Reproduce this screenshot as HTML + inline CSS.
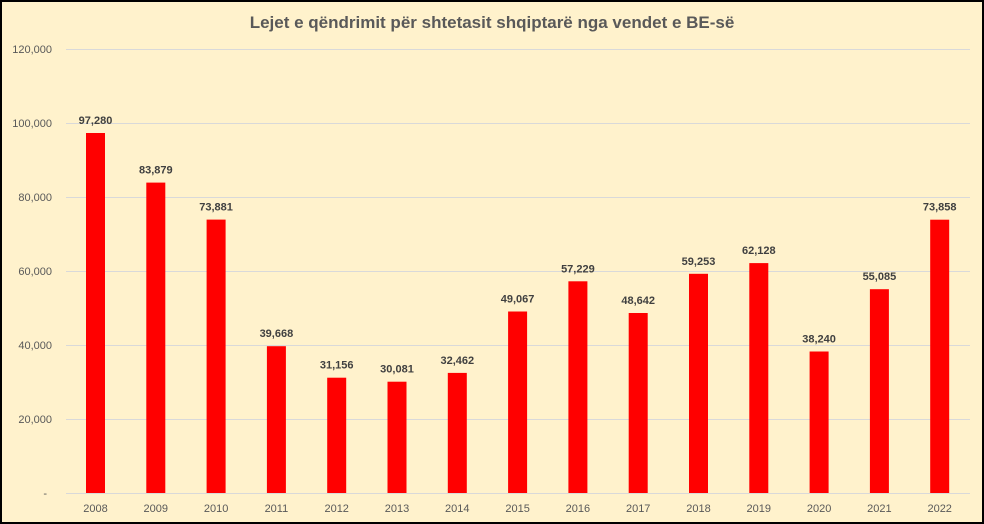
<!DOCTYPE html>
<html><head><style>body{margin:0}svg{display:block}</style></head><body>
<svg width="984" height="524" xmlns="http://www.w3.org/2000/svg" font-family="Liberation Sans, sans-serif">
<rect x="1" y="1" width="982" height="522" fill="#FFF2CC" stroke="#000" stroke-width="2"/>
<text x="492" y="28" text-anchor="middle" font-size="17" font-weight="bold" fill="#595959">Lejet e qëndrimit për shtetasit shqiptarë nga vendet e BE-së</text>
<g stroke="#D9D9D9" stroke-width="1">
<line x1="66" x2="970" y1="49.5" y2="49.5"/><line x1="66" x2="970" y1="123.5" y2="123.5"/><line x1="66" x2="970" y1="197.5" y2="197.5"/><line x1="66" x2="970" y1="271.5" y2="271.5"/><line x1="66" x2="970" y1="345.5" y2="345.5"/><line x1="66" x2="970" y1="419.5" y2="419.5"/><line x1="66" x2="970" y1="493.5" y2="493.5"/>
</g>
<g font-size="11" fill="#595959" text-anchor="end">
<text x="52" y="53">120,000</text><text x="52" y="127">100,000</text><text x="52" y="201">80,000</text><text x="52" y="275">60,000</text><text x="52" y="349">40,000</text><text x="52" y="423">20,000</text><text x="47" y="497">-</text>
</g>
<g fill="#FF0000">
<rect x="86" y="133" width="19" height="360"/>
<rect x="146.3" y="182.6" width="19" height="310.4"/>
<rect x="206.6" y="219.6" width="19" height="273.4"/>
<rect x="266.9" y="346.2" width="19" height="146.8"/>
<rect x="327.2" y="377.7" width="19" height="115.3"/>
<rect x="387.5" y="381.7" width="19" height="111.3"/>
<rect x="447.8" y="372.9" width="19" height="120.1"/>
<rect x="508.1" y="311.5" width="19" height="181.5"/>
<rect x="568.4" y="281.3" width="19" height="211.7"/>
<rect x="628.7" y="313" width="19" height="180"/>
<rect x="689" y="273.8" width="19" height="219.2"/>
<rect x="749.3" y="263.1" width="19" height="229.9"/>
<rect x="809.6" y="351.5" width="19" height="141.5"/>
<rect x="869.9" y="289.2" width="19" height="203.8"/>
<rect x="930.2" y="219.7" width="19" height="273.3"/>
</g>
<g font-size="11" font-weight="bold" fill="#404040" text-anchor="middle">
<text x="95.5" y="124">97,280</text>
<text x="155.8" y="173.6">83,879</text>
<text x="216.1" y="210.6">73,881</text>
<text x="276.4" y="337.2">39,668</text>
<text x="336.7" y="368.7">31,156</text>
<text x="397" y="372.7">30,081</text>
<text x="457.3" y="363.9">32,462</text>
<text x="517.6" y="302.5">49,067</text>
<text x="577.9" y="272.3">57,229</text>
<text x="638.2" y="304">48,642</text>
<text x="698.5" y="264.8">59,253</text>
<text x="758.8" y="254.1">62,128</text>
<text x="819.1" y="342.5">38,240</text>
<text x="879.4" y="280.2">55,085</text>
<text x="939.7" y="210.7">73,858</text>
</g>
<g font-size="11" fill="#595959" text-anchor="middle">
<text x="95.5" y="512">2008</text><text x="155.8" y="512">2009</text><text x="216.1" y="512">2010</text><text x="276.4" y="512">2011</text><text x="336.7" y="512">2012</text><text x="397" y="512">2013</text><text x="457.3" y="512">2014</text><text x="517.6" y="512">2015</text><text x="577.9" y="512">2016</text><text x="638.2" y="512">2017</text><text x="698.5" y="512">2018</text><text x="758.8" y="512">2019</text><text x="819.1" y="512">2020</text><text x="879.4" y="512">2021</text><text x="939.7" y="512">2022</text>
</g>
</svg>
</body></html>
